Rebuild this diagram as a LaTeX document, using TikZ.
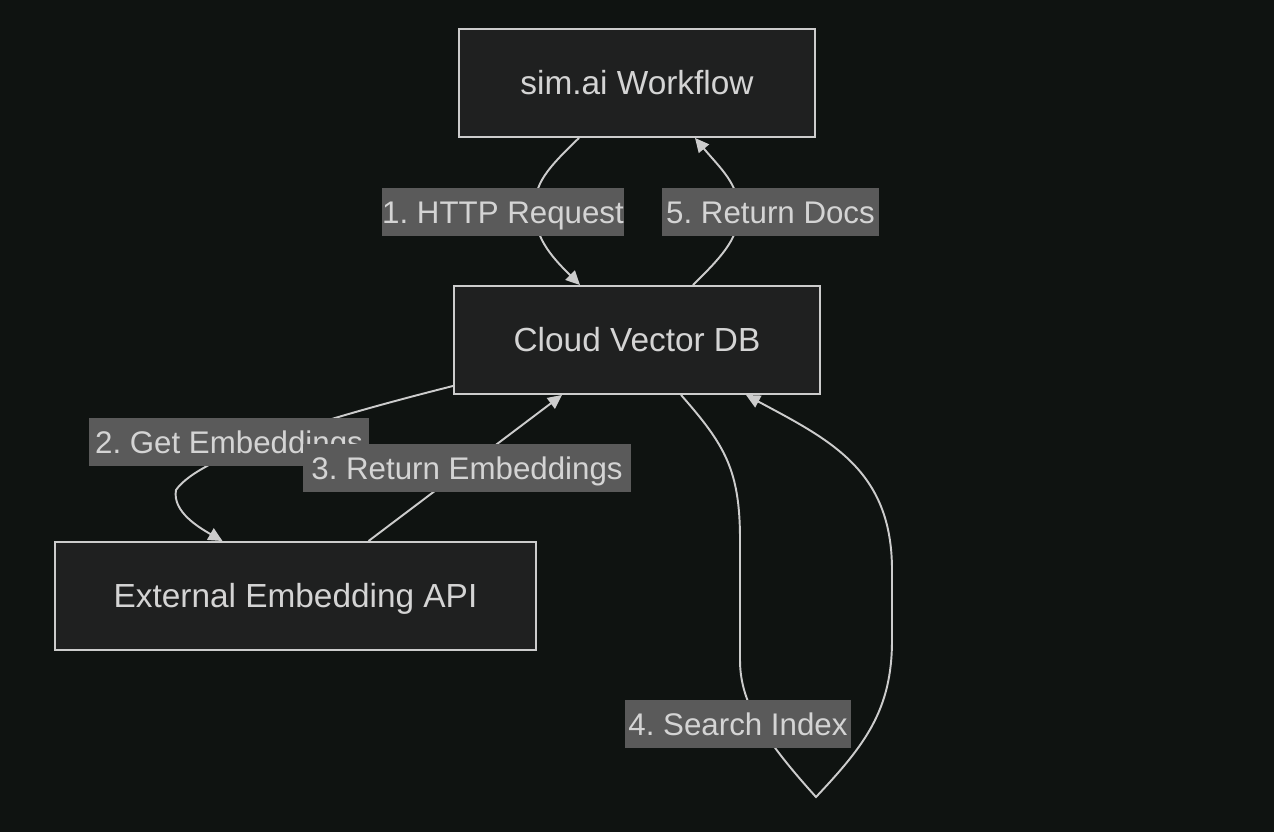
\documentclass[tikz,border=0pt]{standalone}
\usepackage{fontspec}
\setmainfont{Liberation Sans}
\frenchspacing
\usetikzlibrary{arrows.meta,positioning,calc}
\definecolor{bgc}{HTML}{0F1311}
\definecolor{boxc}{HTML}{1F2020}
\definecolor{edgec}{HTML}{CCCCCC}
\definecolor{lblc}{HTML}{5A5A5A}
\definecolor{txtc}{HTML}{D4D4D4}
\pgfdeclarelayer{bg}
\pgfsetlayers{bg,main}
\tikzset{
  blk/.style={rectangle, draw=edgec, fill=boxc, line width=1.1pt, inner sep=0pt,
    minimum height=2.16cm, text height=16pt, text depth=3pt, text=txtc,
    font=\fontsize{19}{22}\selectfont},
  lbl/.style={rectangle, fill=lblc, inner sep=0pt, minimum height=0.96cm,
    text height=16.5pt, text depth=3pt, text=txtc, font=\fontsize{17.8}{21}\selectfont},
  link/.style={draw=edgec, line width=1.1pt, -{Triangle[length=8pt,width=7.5pt]}},
}

\begin{document}
\begin{tikzpicture}[x=0.02cm, y=-0.02cm]
  \useasboundingbox (0,0) rectangle (1274,832);
  \node[blk, minimum width=7.12cm] (wf) at (637,83) {sim.ai Workflow};
  \node[blk, minimum width=7.32cm] (cvd) at (637,340) {Cloud Vector DB};
  \node[blk, minimum width=9.62cm] (api) at (295.5,596) {External Embedding API};
  \node[lbl, minimum width=4.76cm] (l1) at (503,212) {1. HTTP Request};
  \node[lbl, minimum width=5.6cm] (l2) at (229,442) {2. Get Embeddings};
  \node[lbl, minimum width=6.56cm] (l3) at (467,468) {3. Return Embeddings};
  \node[lbl, minimum width=4.52cm] (l4) at (738,724) {4. Search Index};
  \node[lbl, minimum width=4.34cm] (l5) at (770.5,212) {5. Return Docs};
  \begin{pgfonlayer}{bg}
    \fill[bgc] (0,0) rectangle (1274,832);
    \draw[link] ($(wf.south)+(-58,0)$) .. controls +(-40,38) and +(0,-25) .. (535,212)
      .. controls +(0,28) and +(-25,-25) .. ($(cvd.north)+(-57,0)$);
    \draw[link] ($(cvd.south west)+(0,-9)$) .. controls (330,417) and (200,455) .. (176,490)
      .. controls (172,512) and (200,528) .. ($(api.north)+(-73,0)$);
    \draw[link] ($(api.north)+(73,0)$) -- ($(cvd.south)+(-75,0)$);
    \draw[link] ($(cvd.south)+(44,0)$) .. controls (725,445) and (740,470) .. (740,540)
      -- (740,660) .. controls (740,700) and (760,735) .. (816,797)
      .. controls (865,745) and (892,710) .. (892,640) -- (892,570)
      .. controls (892,470) and (830,440) .. ($(cvd.south)+(109,0)$);
    \draw[link] ($(cvd.north)+(56,0)$) .. controls +(25,-25) and +(0,28) .. (739,212)
      .. controls +(0,-28) and +(25,30) .. ($(wf.south)+(58,0)$);
  \end{pgfonlayer}
\end{tikzpicture}
\end{document}
